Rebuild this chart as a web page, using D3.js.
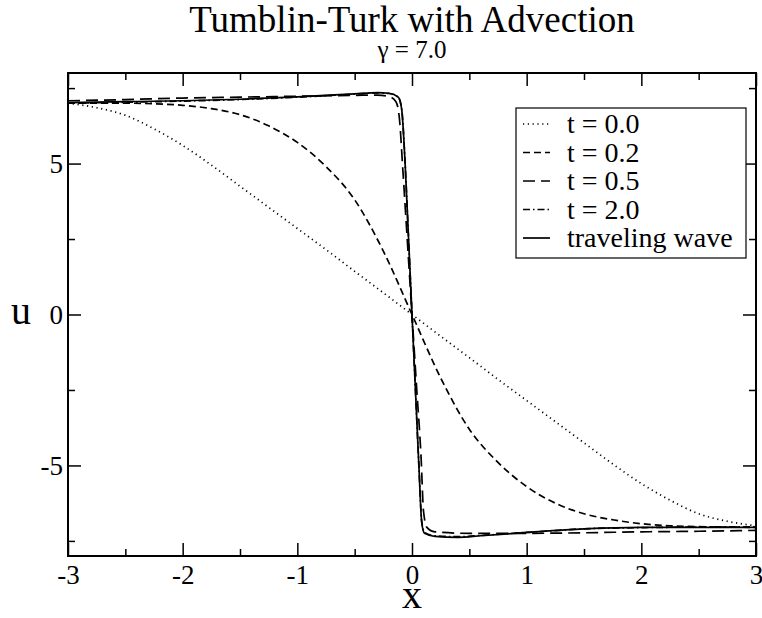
<!DOCTYPE html>
<html>
<head>
<meta charset="UTF-8">
<title>Tumblin-Turk with Advection</title>
<script src="https://d3js.org/d3.v7.min.js"></script>
<style>
  body { margin: 0; background: #fff; }
  text { font-family: "Liberation Serif", "Times New Roman", "DejaVu Serif", serif; fill: #000; }
</style>
</head>
<body>
<div id="chart"></div>
<script>
// ---- data ----
const xTicks = [-3, -2, -1, 0, 1, 2, 3];
const yTicks = [-5, 0, 5];

// t = 0.0 (dotted, initial profile)
const x00 = [-3, -2.75, -2.5, -2.25, -2, -1.75, -1.5, -1.25, -1, -0.75, -0.5, -0.25, 0,
             0.25, 0.5, 0.75, 1, 1.25, 1.5, 1.75, 2, 2.25, 2.5, 2.75, 3];
const u00 = [7.0, 6.85, 6.6, 6.15, 5.6, 4.95, 4.25, 3.55, 2.85, 2.15, 1.43, 0.72, 0,
             -0.72, -1.43, -2.15, -2.85, -3.55, -4.25, -4.95, -5.6, -6.15, -6.6, -6.85, -7.0];

// t = 0.2 (short dashes)
const x02 = [-3, -2.5, -2.25, -2, -1.75, -1.5, -1.25, -1, -0.75, -0.5, -0.25, 0,
             0.25, 0.5, 0.75, 1, 1.25, 1.5, 1.75, 2, 2.25, 2.5, 3];
const u02 = [7.0, 7.0, 6.98, 6.93, 6.82, 6.62, 6.25, 5.7, 4.9, 3.8, 2.1, 0,
             -2.1, -3.8, -4.9, -5.7, -6.25, -6.6, -6.8, -6.93, -7.0, -7.03, -7.05];

// t = 0.5 (long dashes)
const x05 = [-3, -2.5, -2, -1.5, -1, -0.5, -0.3, -0.2, -0.14, -0.11, -0.08, -0.04, 0,
             0.04, 0.08, 0.1, 0.13, 0.2, 0.5, 1, 1.5, 2, 2.5, 3];
const u05 = [7.08, 7.12, 7.17, 7.2, 7.23, 7.26, 7.27, 7.22, 7.05, 6.5, 4.8, 2.4, 0,
             -2.4, -4.8, -6.5, -7.05, -7.2, -7.25, -7.25, -7.23, -7.2, -7.18, -7.15];

// t = 2.0 (dash-dot)
const x20 = [-3, -2.5, -2, -1.5, -1, -0.5, -0.3, -0.2, -0.12, -0.09, -0.06, -0.03, 0,
             0.03, 0.06, 0.085, 0.11, 0.2, 0.4, 0.6, 1, 1.5, 2, 2.5, 3];
const u20 = [7.0, 7.03, 7.07, 7.12, 7.2, 7.3, 7.34, 7.32, 7.2, 6.8, 5.0, 2.5, 0,
             -2.5, -5.0, -6.85, -7.22, -7.33, -7.36, -7.32, -7.22, -7.1, -7.06, -7.04, -7.03];

// traveling wave (solid)
const xTw = x20;
const uTw = [7.02, 7.05, 7.08, 7.13, 7.21, 7.31, 7.35, 7.33, 7.2, 6.8, 5.0, 2.5, 0,
             -2.5, -5.0, -6.9, -7.25, -7.35, -7.38, -7.33, -7.22, -7.1, -7.05, -7.05, -7.05];

const seriesNames = ["t = 0.0", "t = 0.2", "t = 0.5", "t = 2.0", "traveling wave"];
const seriesX = [x00, x02, x05, x20, xTw];
const seriesU = [u00, u02, u05, u20, uTw];
const dashes = ["1.2,3.6", "7,4", "12,6", "7,3,1.5,3", null];

// ---- layout ----
const W = 762, H = 618;
const margin = {top: 73, right: 6, bottom: 62, left: 68};
const width = W - margin.left - margin.right,
      height = H - margin.top - margin.bottom;

const svg = d3.select("#chart").append("svg")
    .attr("width", W).attr("height", H);

const g = svg.append("g")
    .attr("transform", "translate(" + margin.left + "," + margin.top + ")");

const x = d3.scaleLinear().domain([-3, 3]).range([0, width]);
const y = d3.scaleLinear().domain([-8, 8]).range([height, 0]);

// minor ticks
const xMinor = d3.range(-2.5, 3, 1);
const yMinor = [-7.5, -2.5, 2.5, 7.5];

const minus = d => d < 0 ? "-" + Math.abs(d) : d;

// bottom axis (ticks pointing inward)
g.append("g").attr("transform", "translate(0," + height + ")")
    .call(d3.axisBottom(x).tickValues(xTicks).tickSize(-13).tickSizeOuter(0).tickPadding(9)
        .tickFormat(minus))
    .call(a => a.select(".domain").remove())
    .call(a => a.selectAll("text").style("font-size", "27px"));
g.append("g").attr("transform", "translate(0," + height + ")")
    .call(d3.axisBottom(x).tickValues(xMinor).tickSize(-7).tickFormat(""))
    .call(a => a.select(".domain").remove());
// top mirror
g.append("g")
    .call(d3.axisTop(x).tickValues(xTicks).tickSize(-13).tickFormat(""))
    .call(a => a.select(".domain").remove());
g.append("g")
    .call(d3.axisTop(x).tickValues(xMinor).tickSize(-7).tickFormat(""))
    .call(a => a.select(".domain").remove());

// left axis
g.append("g")
    .call(d3.axisLeft(y).tickValues(yTicks).tickSize(-13).tickPadding(5)
        .tickFormat(minus))
    .call(a => a.select(".domain").remove())
    .call(a => a.selectAll("text").style("font-size", "27px"));
g.append("g")
    .call(d3.axisLeft(y).tickValues(yMinor).tickSize(-7).tickFormat(""))
    .call(a => a.select(".domain").remove());
// right mirror
g.append("g").attr("transform", "translate(" + width + ",0)")
    .call(d3.axisRight(y).tickValues(yTicks).tickSize(-13).tickFormat(""))
    .call(a => a.select(".domain").remove());
g.append("g").attr("transform", "translate(" + width + ",0)")
    .call(d3.axisRight(y).tickValues(yMinor).tickSize(-7).tickFormat(""))
    .call(a => a.select(".domain").remove());

g.selectAll(".tick line").attr("stroke", "#000").attr("stroke-width", 1.5);

// curves
const line = d3.line()
    .x(d => x(d[0]))
    .y(d => y(d[1]))
    .curve(d3.curveMonotoneX);

seriesNames.forEach(function(name, i) {
    const pts = seriesX[i].map((v, k) => [v, seriesU[i][k]]);
    g.append("path")
        .datum(pts)
        .attr("fill", "none")
        .attr("stroke", "#000")
        .attr("stroke-width", 1.7)
        .attr("stroke-dasharray", dashes[i])
        .attr("d", line);
});

// frame
g.append("rect")
    .attr("x", 0).attr("y", 0)
    .attr("width", width).attr("height", height)
    .attr("fill", "none").attr("stroke", "#000").attr("stroke-width", 2);

// legend
const lg = svg.append("g").attr("transform", "translate(516,108)");
lg.append("rect")
    .attr("width", 230).attr("height", 150)
    .attr("fill", "#fff").attr("stroke", "#000").attr("stroke-width", 1.2);
seriesNames.forEach(function(name, i) {
    const yy = 16 + i * 28.5;
    lg.append("line")
        .attr("x1", 7).attr("x2", 34)
        .attr("y1", yy).attr("y2", yy)
        .attr("stroke", "#000").attr("stroke-width", 1.7)
        .attr("stroke-dasharray", dashes[i]);
    lg.append("text")
        .attr("x", 51).attr("y", yy + 9)
        .style("font-size", "28px")
        .text(name);
});

// titles
svg.append("text")
    .attr("x", margin.left + width / 2).attr("y", 32)
    .attr("text-anchor", "middle")
    .style("font-size", "37px")
    .text("Tumblin-Turk with Advection");
svg.append("text")
    .attr("x", margin.left + width / 2).attr("y", 58)
    .attr("text-anchor", "middle")
    .style("font-size", "25px")
    .text("\u03b3 = 7.0");

// axis labels
svg.append("text")
    .attr("x", margin.left + width / 2).attr("y", 608)
    .attr("text-anchor", "middle")
    .style("font-size", "40px")
    .text("x");
svg.append("text")
    .attr("x", 21).attr("y", y(0) + margin.top + 9)
    .attr("text-anchor", "middle")
    .style("font-size", "40px")
    .text("u");
</script>
</body>
</html>
